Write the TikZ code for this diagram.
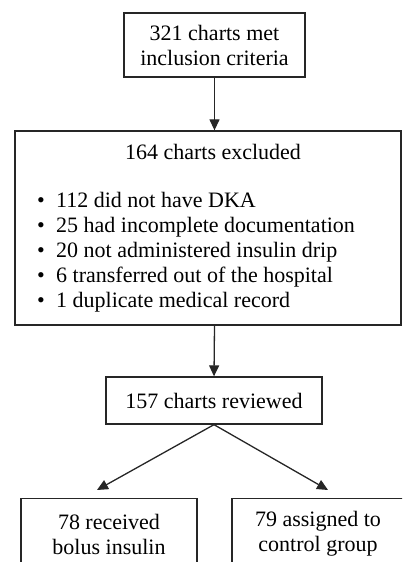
\documentclass[tikz,border=0pt]{standalone}
\usepackage{fontspec}
\setmainfont{Liberation Serif}
\usetikzlibrary{arrows.meta}

\newcommand{\blt}{\makebox[19pt][l]{\textbullet}}

\begin{document}
\begin{tikzpicture}[x = 1pt, y = 1pt,
    box/.style = {draw = black!85, line width = 1.3pt, inner sep = 0pt, align = center, font = \fontsize{22}{25}\selectfont},
    txt/.style = {inner sep = 0pt, font = \fontsize{22}{25}\selectfont},
    arr/.style = {draw = black!85, line width = 1.3pt, -{Triangle[length = 11pt, width = 10pt]}}]
    \clip (0, 0) rectangle (402, 562);
    \useasboundingbox (0, 0) rectangle (402, 562);

    \node[box, minimum width = 181pt, minimum height = 64pt] (met) at (214.5, 517) {321 charts met\\inclusion criteria};

    \node[box, minimum width = 386pt, minimum height = 194pt] (excl) at (208, 334) {};
    \node[txt] (exclTitle) at (213, 410) {164 charts excluded};
    \node[txt, align = left, anchor = west] (exclList) at (37, 309.5) {%
        \blt 112 did not have DKA\\
        \blt 25 had incomplete documentation\\
        \blt 20 not administered insulin drip\\
        \blt 6 transferred out of the hospital\\
        \blt 1 duplicate medical record};

    \node[box, minimum width = 216pt, minimum height = 47pt] (reviewed) at (214, 161.5) {157 charts reviewed};

    \node[box, minimum width = 176pt, minimum height = 71pt, anchor = north] (bolus) at (109, 64) {78 received\\bolus insulin};
    \node[box, minimum width = 172pt, minimum height = 71pt, anchor = north] (control) at (318, 64) {79 assigned to\\control group};

    \coordinate (toBolus) at (97, 72);
    \coordinate (toControl) at (328, 72);

    \draw[arr] (met.south) -- (met.south |- excl.north);
    \draw[arr] (met.south |- excl.south) -- (reviewed.north);
    \draw[arr] (reviewed.south) -- (toBolus);
    \draw[arr] (reviewed.south) -- (toControl);
\end{tikzpicture}
\end{document}
